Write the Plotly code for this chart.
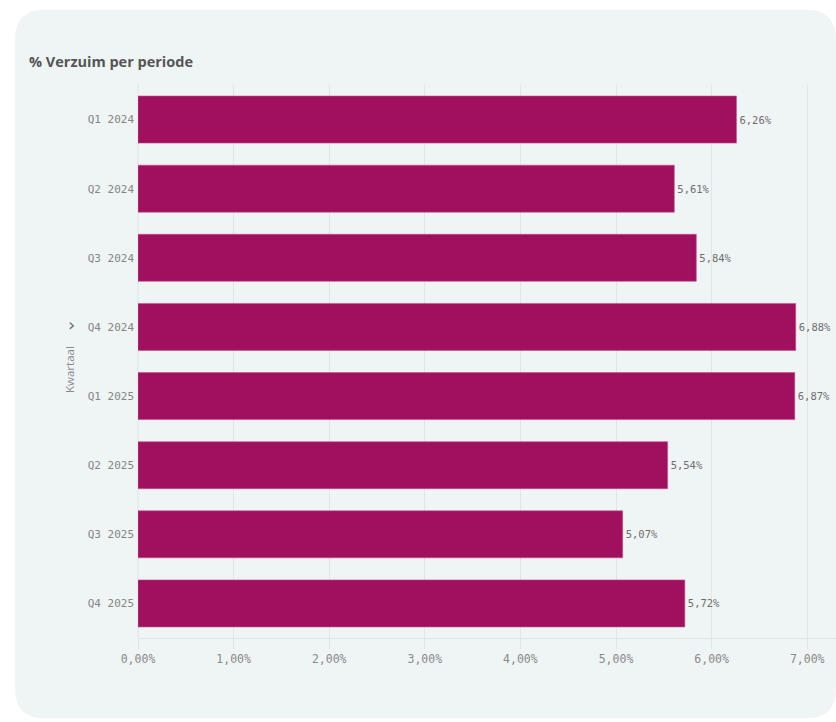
import plotly.graph_objects as go

# ---- data ----
periods = ["Q1 2024", "Q2 2024", "Q3 2024", "Q4 2024", "Q1 2025", "Q2 2025", "Q3 2025", "Q4 2025"]
verzuim = [6.26, 5.61, 5.84, 6.88, 6.87, 5.54, 5.07, 5.72]
x_ticks = [0, 1, 2, 3, 4, 5, 6, 7]
x_tick_labels = ["0,00%", "1,00%", "2,00%", "3,00%", "4,00%", "5,00%", "6,00%", "7,00%"]
title_text = "% Verzuim per periode"
axis_title = "Kwartaal"

W, H = 836, 722
L, R, T, B = 138, 0, 84.5, 83.5
PW, PH = W - L - R, H - T - B


def px(x):
    return (x - L) / PW


def py(y):
    return (H - B - y) / PH


def rounded_rect(x0, y0, x1, y1, r):
    rx = r / PW
    ry = r / PH
    X0, X1 = px(x0), px(x1)
    Y0, Y1 = py(y0), py(y1)  # Y0 top (larger), Y1 bottom
    return (f"M {X0+rx},{Y0} L {X1-rx},{Y0} Q {X1},{Y0} {X1},{Y0-ry} "
            f"L {X1},{Y1+ry} Q {X1},{Y1} {X1-rx},{Y1} "
            f"L {X0+rx},{Y1} Q {X0},{Y1} {X0},{Y1+ry} "
            f"L {X0},{Y0-ry} Q {X0},{Y0} {X0+rx},{Y0} Z")


fig = go.Figure()
fig.add_trace(go.Bar(
    y=periods, x=verzuim, orientation="h",
    marker=dict(color="#a0105f", line=dict(color="#c2508c", width=0.6)),
    texttemplate="%{x:.2f}%", textposition="outside",
    textfont=dict(family="DejaVu Sans Mono", size=10.5, color="#6e6e6e"),
    cliponaxis=False, hoverinfo="skip",
))

fig.update_layout(
    width=W, height=H,
    margin=dict(l=L, r=R, t=T, b=B, pad=0),
    paper_bgcolor="white", plot_bgcolor="rgba(0,0,0,0)",
    separators=",.",
    bargap=0.32,
    showlegend=False,
    xaxis=dict(
        range=[0, PW / 95.6], tickvals=x_ticks, ticktext=x_tick_labels,
        showgrid=True, gridcolor="#dfe5e8", gridwidth=1, zeroline=False,
        showline=True, linecolor="#dfe5e8", linewidth=1,
        ticks="outside", ticklen=10, tickcolor="#dfe5e8",
        tickfont=dict(family="DejaVu Sans Mono", size=11.5, color="#8a8a8a"),
        fixedrange=True,
    ),
    yaxis=dict(
        autorange="reversed", showgrid=False, zeroline=False, showline=False,
        ticks="", ticklabelstandoff=3,
        tickfont=dict(family="DejaVu Sans Mono", size=11, color="#858585"),
        fixedrange=True,
    ),
    shapes=[
        dict(type="path", xref="paper", yref="paper", layer="below",
             path=rounded_rect(15, 9, 836, 719, 30),
             fillcolor="#eff4f5", line=dict(width=0)),
        dict(type="line", xref="paper", yref="paper", layer="below",
             x0=px(138), x1=px(138), y0=py(84), y1=py(638),
             line=dict(color="#dfe5e8", width=1)),
    ],
    annotations=[
        dict(text=f"<b>{title_text}</b>", xref="paper", yref="paper",
             x=px(27), y=py(61), xanchor="left", yanchor="middle", showarrow=False,
             font=dict(family="Open Sans", size=14.5, color="#555555")),
        dict(text=axis_title, xref="paper", yref="paper", textangle=-90,
             x=px(70), y=py(370), xanchor="center", yanchor="middle", showarrow=False,
             font=dict(family="Open Sans", size=11.5, color="#8a8a8a")),
        dict(text="›", xref="paper", yref="paper",
             x=px(71), y=py(324), xanchor="center", yanchor="middle", showarrow=False,
             font=dict(family="DejaVu Sans", size=18, color="#707070")),
    ],
)

fig.write_html("out.html", config={"displayModeBar": False},
               post_script="document.body.style.margin='0';")
